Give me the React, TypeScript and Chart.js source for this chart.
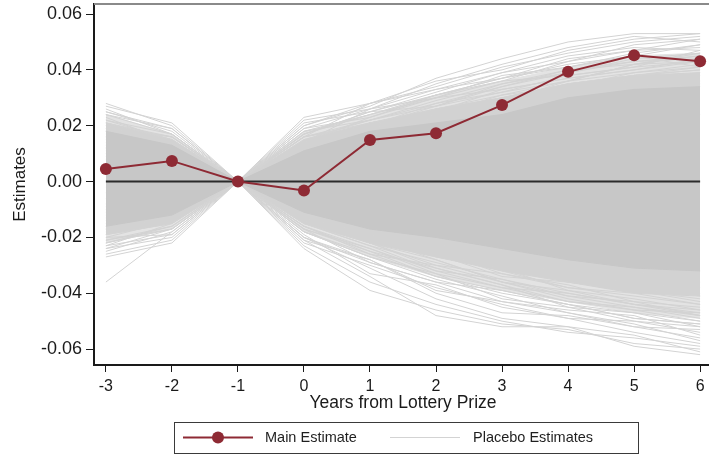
import React, { useEffect, useRef } from "react";
import { Chart, registerables } from "chart.js";

Chart.register(...registerables);

// ---------- data ----------
const years = [-3, -2, -1, 0, 1, 2, 3, 4, 5, 6];
const xTicks = [-3, -2, -1, 0, 1, 2, 3, 4, 5, 6];
const yTicks = [-0.06, -0.04, -0.02, 0, 0.02, 0.04, 0.06];

const mainLabel = "Main Estimate";
const placeboLabel = "Placebo Estimates";
const xTitle = "Years from Lottery Prize";
const yTitle = "Estimates";

const mainEstimate = [0.0045, 0.0074, 0, -0.0032, 0.0149, 0.0173, 0.0274, 0.0393, 0.0452, 0.0431];
const zeroLine = [0, 0, 0, 0, 0, 0, 0, 0, 0, 0];

// dense core of the placebo distribution (where lines overlap into solid grey)
const coreUpper = [0.018, 0.013, 0, 0.011, 0.018, 0.021, 0.024, 0.030, 0.033, 0.034];
const coreLower = [-0.016, -0.012, 0, -0.011, -0.017, -0.020, -0.024, -0.028, -0.031, -0.032];
// less dense ring
const midUpper = [0.021, 0.015, 0, 0.015, 0.021, 0.026, 0.030, 0.035, 0.038, 0.039];
const midLower = [-0.019, -0.015, 0, -0.015, -0.022, -0.027, -0.032, -0.036, -0.040, -0.041];
// sparse outer ring
const outerUpper = [0.024, 0.017, 0, 0.018, 0.024, 0.031, 0.036, 0.041, 0.045, 0.046];
const outerLower = [-0.022, -0.017, 0, -0.018, -0.027, -0.034, -0.039, -0.043, -0.047, -0.049];

// individual placebo estimates
const placeboEstimates = [
  [0.028, 0.020, 0, 0.012, 0.018, 0.026, 0.030, 0.035, 0.038, 0.041],
  [0.027, 0.021, 0, -0.006, 0.004, 0.010, 0.016, 0.022, 0.018, 0.024],
  [0.025, 0.018, 0, 0.023, 0.028, 0.034, 0.041, 0.046, 0.050, 0.052],
  [-0.036, -0.018, 0, 0.008, 0.012, 0.020, 0.025, 0.031, 0.034, 0.036],
  [-0.027, -0.022, 0, -0.024, -0.039, -0.046, -0.051, -0.053, -0.058, -0.060],
  [-0.024, -0.020, 0, -0.020, -0.031, -0.042, -0.049, -0.052, -0.055, -0.061],
  [0.021, 0.015, 0, 0.020, 0.027, 0.037, 0.044, 0.050, 0.053, 0.053],
  [0.015, 0.010, 0, 0.018, 0.024, 0.030, 0.038, 0.041, 0.046, 0.049],
  [-0.022, -0.017, 0, -0.018, -0.027, -0.035, -0.041, -0.047, -0.052, -0.056],
  [0.010, 0.006, 0, -0.012, -0.020, -0.028, -0.036, -0.042, -0.046, -0.050],
  [-0.012, -0.008, 0, 0.015, 0.022, 0.029, 0.035, 0.039, 0.043, 0.045],
  [0.019, 0.016, 0, -0.016, -0.024, -0.032, -0.038, -0.040, -0.044, -0.047],
  [-0.018, -0.014, 0, -0.022, -0.030, -0.038, -0.044, -0.049, -0.050, -0.054],
  [0.023, 0.014, 0, 0.016, 0.021, 0.025, 0.033, 0.037, 0.040, 0.044],
  [-0.020, -0.019, 0, -0.014, -0.018, -0.024, -0.028, -0.033, -0.038, -0.041],
  [0.006, 0.003, 0, 0.019, 0.023, 0.031, 0.036, 0.043, 0.047, 0.051],
  [-0.008, -0.006, 0, -0.019, -0.033, -0.037, -0.045, -0.049, -0.054, -0.058],
  [0.017, 0.012, 0, 0.010, 0.014, 0.021, 0.027, 0.032, 0.036, 0.038],
  [-0.015, -0.011, 0, -0.012, -0.021, -0.026, -0.034, -0.036, -0.039, -0.043],
  [0.012, 0.009, 0, -0.009, -0.015, -0.021, -0.027, -0.031, -0.035, -0.040],
  [-0.021, -0.016, 0, 0.011, 0.017, 0.023, 0.028, 0.032, 0.037, 0.039],
  [0.024, 0.019, 0, -0.013, -0.022, -0.030, -0.033, -0.037, -0.043, -0.048],
  [-0.004, -0.002, 0, 0.021, 0.025, 0.032, 0.039, 0.045, 0.048, 0.047],
  [0.002, 0.001, 0, -0.021, -0.028, -0.040, -0.047, -0.048, -0.052, -0.053],
  [-0.026, -0.021, 0, -0.017, -0.025, -0.031, -0.037, -0.045, -0.047, -0.052],
  [0.020, 0.013, 0, 0.014, 0.019, 0.024, 0.031, 0.034, 0.039, 0.042],
  [-0.010, -0.007, 0, -0.015, -0.023, -0.029, -0.035, -0.041, -0.045, -0.049],
  [0.013, 0.011, 0, 0.017, 0.025, 0.027, 0.034, 0.040, 0.042, 0.046],
  [-0.017, -0.013, 0, -0.023, -0.036, -0.044, -0.050, -0.054, -0.056, -0.059],
  [0.026, 0.017, 0, 0.009, 0.015, 0.019, 0.026, 0.029, 0.033, 0.035],
  [-0.013, -0.010, 0, -0.010, -0.016, -0.022, -0.029, -0.034, -0.036, -0.038],
  [0.008, 0.005, 0, 0.022, 0.026, 0.035, 0.042, 0.048, 0.052, 0.050],
  [-0.023, -0.015, 0, -0.011, -0.019, -0.027, -0.031, -0.039, -0.042, -0.046],
  [0.016, 0.014, 0, -0.018, -0.026, -0.034, -0.040, -0.044, -0.049, -0.051],
  [-0.006, -0.004, 0, 0.013, 0.020, 0.028, 0.032, 0.038, 0.041, 0.043],
  [0.022, 0.017, 0, -0.008, -0.012, -0.018, -0.024, -0.028, -0.032, -0.036],
  [-0.019, -0.012, 0, 0.012, 0.019, 0.022, 0.029, 0.034, 0.038, 0.040],
  [0.011, 0.008, 0, -0.017, -0.029, -0.036, -0.043, -0.046, -0.048, -0.055],
  [-0.025, -0.018, 0, -0.021, -0.034, -0.048, -0.052, -0.052, -0.059, -0.062],
  [0.018, 0.015, 0, 0.016, 0.028, 0.036, 0.040, 0.047, 0.051, 0.053],
  [0.024, 0.017, 0, 0.017, 0.024, 0.031, 0.037, 0.044, 0.047, 0.048],
  [-0.022, -0.016, 0, -0.020, -0.029, -0.036, -0.039, -0.044, -0.049, -0.051],
  [0.020, 0.016, 0, 0.018, 0.022, 0.028, 0.034, 0.039, 0.044, 0.046],
  [-0.019, -0.015, 0, -0.017, -0.024, -0.033, -0.038, -0.043, -0.046, -0.047],
  [0.014, 0.009, 0, 0.014, 0.026, 0.033, 0.037, 0.042, 0.045, 0.041],
  [-0.016, -0.013, 0, -0.016, -0.026, -0.030, -0.036, -0.039, -0.044, -0.046],
  [0.022, 0.015, 0, -0.012, -0.019, -0.025, -0.032, -0.038, -0.041, -0.044],
  [-0.021, -0.017, 0, 0.014, 0.023, 0.030, 0.033, 0.037, 0.040, 0.043],
  [0.009, 0.007, 0, 0.020, 0.028, 0.033, 0.039, 0.043, 0.049, 0.051],
  [-0.011, -0.009, 0, -0.018, -0.027, -0.033, -0.042, -0.045, -0.050, -0.052],
  [0.025, 0.019, 0, 0.012, 0.020, 0.027, 0.032, 0.036, 0.042, 0.045],
  [-0.024, -0.017, 0, -0.014, -0.022, -0.028, -0.036, -0.041, -0.043, -0.045],
  [0.016, 0.012, 0, 0.016, 0.022, 0.027, 0.035, 0.040, 0.043, 0.044],
  [-0.014, -0.012, 0, -0.020, -0.028, -0.039, -0.043, -0.047, -0.051, -0.057],
  [0.004, 0.002, 0, 0.017, 0.025, 0.031, 0.037, 0.041, 0.045, 0.049],
  [-0.002, -0.001, 0, -0.016, -0.025, -0.034, -0.039, -0.044, -0.047, -0.050],
  [0.018, 0.014, 0, -0.014, -0.020, -0.026, -0.030, -0.036, -0.039, -0.042],
  [-0.017, -0.014, 0, 0.013, 0.021, 0.026, 0.031, 0.036, 0.039, 0.041],
  [0.021, 0.016, 0, 0.019, 0.026, 0.030, 0.036, 0.038, 0.041, 0.047],
  [-0.020, -0.014, 0, -0.013, -0.020, -0.025, -0.033, -0.038, -0.040, -0.044],
  [0.012, 0.010, 0, -0.015, -0.022, -0.031, -0.037, -0.043, -0.045, -0.048],
  [-0.009, -0.005, 0, 0.016, 0.020, 0.025, 0.030, 0.035, 0.038, 0.040],
  [0.019, 0.013, 0, 0.013, 0.016, 0.022, 0.029, 0.036, 0.042, 0.043],
  [-0.023, -0.019, 0, -0.015, -0.023, -0.032, -0.035, -0.040, -0.044, -0.048],
];

// ---------- styles ----------
const MAROON = "#8e2a34";
const PLACEBO_LINE = "#d3d3d3";
const CORE_FILL = "#c7c7c7";
const MID_FILL = "#d2d2d2";
const OUTER_FILL = "#e3e3e3";
const FONT = "'Liberation Sans', Arial, Helvetica, sans-serif";

const toPoints = (vals: number[]) => vals.map((v, i) => ({ x: years[i], y: v }));

const frameAndLegend = {
  id: "frameAndLegend",
  afterDraw(chart: any) {
    const ctx = chart.ctx as CanvasRenderingContext2D;
    const area = chart.chartArea;
    const H = chart.height;
    ctx.save();
    ctx.strokeStyle = "#8a8a8a";
    ctx.lineWidth = 2;
    ctx.beginPath();
    ctx.moveTo(area.left, area.top);
    ctx.lineTo(area.right, area.top);
    ctx.stroke();

    ctx.strokeStyle = "#3a3a3a";
    ctx.lineWidth = 1;
    ctx.strokeRect(174.5, H - 32.5, 464, 31);
    const ly = H - 17.5;
    ctx.strokeStyle = MAROON;
    ctx.lineWidth = 2;
    ctx.beginPath();
    ctx.moveTo(183, ly);
    ctx.lineTo(253, ly);
    ctx.stroke();
    ctx.fillStyle = MAROON;
    ctx.beginPath();
    ctx.arc(218, ly, 6, 0, Math.PI * 2);
    ctx.fill();
    ctx.strokeStyle = PLACEBO_LINE;
    ctx.lineWidth = 1;
    ctx.beginPath();
    ctx.moveTo(390, ly);
    ctx.lineTo(460, ly);
    ctx.stroke();
    ctx.fillStyle = "#1f1f1f";
    ctx.font = `14.5px ${FONT}`;
    ctx.textBaseline = "middle";
    ctx.textAlign = "left";
    ctx.fillText(mainLabel, 265, ly + 0.5);
    ctx.fillText(placeboLabel, 473, ly + 0.5);
    ctx.restore();
  },
};

const band = (label: string, upper: number[], lower: number[], color: string, order: number) => [
  {
    label: label + "Upper",
    data: toPoints(upper),
    borderColor: color,
    borderWidth: 1,
    backgroundColor: color,
    pointRadius: 0,
    fill: "+1",
    order,
  },
  {
    label: label + "Lower",
    data: toPoints(lower),
    borderColor: color,
    borderWidth: 1,
    pointRadius: 0,
    fill: false,
    order: order + 1,
  },
];

export default function App() {
  const ref = useRef<HTMLCanvasElement | null>(null);

  useEffect(() => {
    if (!ref.current) return;
    const datasets: any[] = [
      {
        label: mainLabel,
        data: toPoints(mainEstimate),
        borderColor: MAROON,
        backgroundColor: MAROON,
        borderWidth: 2,
        pointRadius: 6,
        pointBorderWidth: 0,
        pointBackgroundColor: MAROON,
        order: 0,
      },
      {
        label: "zero",
        data: toPoints(zeroLine),
        borderColor: "#2b2b2b",
        borderWidth: 2,
        pointRadius: 0,
        order: 1,
      },
      ...band("core", coreUpper, coreLower, CORE_FILL, 2),
    ];
    placeboEstimates.forEach((s, i) => {
      datasets.push({
        label: i === 0 ? placeboLabel : `placebo${i}`,
        data: toPoints(s),
        borderColor: PLACEBO_LINE,
        borderWidth: 1,
        pointRadius: 0,
        fill: false,
        order: 5,
      });
    });
    datasets.push(...band("mid", midUpper, midLower, MID_FILL, 7));
    datasets.push(...band("outer", outerUpper, outerLower, OUTER_FILL, 10));

    const chart = new Chart(ref.current, {
      type: "line",
      data: { datasets },
      plugins: [frameAndLegend],
      options: {
        animation: false,
        responsive: false,
        devicePixelRatio: 1,
        layout: { padding: { left: 0, right: 0, top: 0, bottom: 41 } },
        plugins: {
          legend: { display: false },
          tooltip: { enabled: false },
        },
        elements: { line: { tension: 0 } },
        scales: {
          x: {
            type: "linear",
            min: -3.18,
            max: 6.18,
            afterBuildTicks: (scale: any) => {
              scale.ticks = xTicks.map((v) => ({ value: v }));
            },
            afterFit: (scale: any) => {
              scale.height = 49;
              scale.paddingLeft = 0;
              scale.paddingRight = 0;
            },
            grid: {
              display: true,
              drawOnChartArea: false,
              drawTicks: true,
              tickLength: 7,
              tickColor: "#1a1a1a",
              tickWidth: 1,
            },
            border: { display: true, color: "#1a1a1a", width: 2 },
            ticks: {
              padding: 5,
              color: "#1a1a1a",
              font: { family: FONT, size: 16 },
              autoSkip: false,
              maxRotation: 0,
              callback: (v: any) => String(v),
            },
            title: {
              display: true,
              text: xTitle,
              color: "#1a1a1a",
              font: { family: FONT, size: 17.5 },
              padding: { top: 0, bottom: 0 },
            },
          },
          y: {
            type: "linear",
            min: -0.0657,
            max: 0.0636,
            afterBuildTicks: (scale: any) => {
              scale.ticks = yTicks.map((v) => ({ value: v }));
            },
            afterFit: (scale: any) => {
              scale.width = 94;
              scale.paddingTop = 0;
              scale.paddingBottom = 0;
            },
            grid: {
              display: true,
              drawOnChartArea: false,
              drawTicks: true,
              tickLength: 8,
              tickColor: "#1a1a1a",
              tickWidth: 1,
            },
            border: { display: true, color: "#1a1a1a", width: 2 },
            ticks: {
              padding: 4,
              color: "#1a1a1a",
              font: { family: FONT, size: 18 },
              autoSkip: false,
              callback: (v: any) => Number(v).toFixed(2),
            },
            title: {
              display: true,
              text: yTitle,
              color: "#1a1a1a",
              font: { family: FONT, size: 17 },
              padding: { top: 10, bottom: 0 },
            },
          },
        },
      },
    });
    return () => chart.destroy();
  }, []);

  return (
    <div
      style={{
        position: "absolute",
        left: 0,
        top: 0,
        width: 709,
        height: 455,
        overflow: "hidden",
        background: "#fff",
      }}
    >
      <canvas
        ref={ref}
        width={718}
        height={457}
        style={{ display: "block", position: "absolute", left: 0, top: -2, width: 718, height: 457 }}
      />
    </div>
  );
}
